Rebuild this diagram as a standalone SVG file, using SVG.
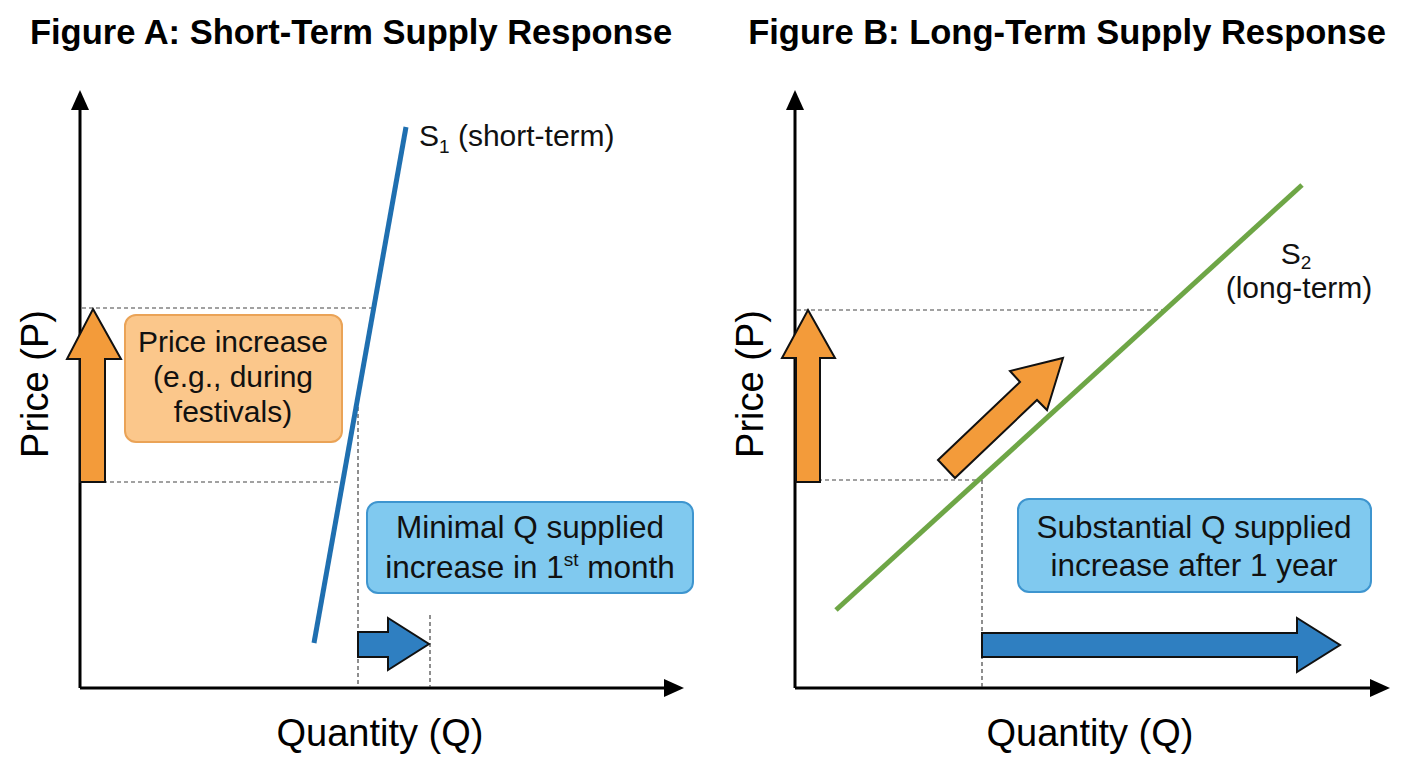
<svg xmlns="http://www.w3.org/2000/svg" width="1408" height="768" viewBox="0 0 1408 768">
<defs>
<marker id="ah" markerWidth="20" markerHeight="18" refX="4" refY="9" orient="auto" markerUnits="userSpaceOnUse" viewBox="0 0 20 18">
<path d="M0,0 L20,9 L0,18 Z" fill="#000"/>
</marker>
<style>
.title{font-family:"Liberation Sans",Arial,sans-serif;font-weight:bold;font-size:34.5px;fill:#000}
.axl{font-family:"Liberation Sans",Arial,sans-serif;font-size:38px;fill:#000}
.lbl{font-family:"Liberation Sans",Arial,sans-serif;font-size:30px;fill:#111}
.box{font-family:"Liberation Sans",Arial,sans-serif;font-size:31.5px;fill:#111}
.axis{stroke:#000;stroke-width:3;fill:none}
.dash{stroke:#444;stroke-width:1.2;stroke-dasharray:4 3;fill:none}
.oarrow{fill:#f39b3a;stroke:#111;stroke-width:2;stroke-linejoin:miter}
.barrow{fill:#2f7fc1;stroke:#111;stroke-width:2}
.obox{fill:#fbc78b;stroke:#eaa357;stroke-width:2}
.bbox{fill:#80c9ef;stroke:#3e95cf;stroke-width:2}
</style>
</defs>
<rect width="1408" height="768" fill="#fff"/>

<text class="title" x="351" y="44" text-anchor="middle">Figure A: Short-Term Supply Response</text>
<text class="title" x="1067" y="44" text-anchor="middle">Figure B: Long-Term Supply Response</text>

<g id="connectors">
<!-- Figure A axes -->
<line class="axis" x1="80" y1="688" x2="80" y2="106" marker-end="url(#ah)"/>
<line class="axis" x1="80" y1="688" x2="668" y2="688" marker-end="url(#ah)"/>
<!-- Figure A dashed guides -->
<line class="dash" x1="82" y1="308" x2="372" y2="308"/>
<line class="dash" x1="82" y1="482" x2="340" y2="482"/>
<line class="dash" x1="358" y1="400" x2="358" y2="687"/>
<line class="dash" x1="430" y1="615" x2="430" y2="687"/>
<!-- Figure B axes -->
<line class="axis" x1="795" y1="688" x2="795" y2="106" marker-end="url(#ah)"/>
<line class="axis" x1="795" y1="688" x2="1374" y2="688" marker-end="url(#ah)"/>
<!-- Figure B dashed guides -->
<line class="dash" x1="797" y1="310" x2="1165" y2="310"/>
<line class="dash" x1="797" y1="480" x2="982" y2="480"/>
<line class="dash" x1="982" y1="480" x2="982" y2="687"/>
</g>

<g id="s1-curve">
<line x1="314" y1="643" x2="406" y2="127" stroke="#1f6fb0" stroke-width="5"/>
<text class="lbl" x="419" y="146">S<tspan font-size="19" dy="7">1</tspan><tspan dy="-7"> (short-term)</tspan></text>
</g>

<g id="s2-curve">
<line x1="836" y1="610" x2="1302" y2="185" stroke="#6ea646" stroke-width="5"/>
<text class="lbl" x="1296" y="264" text-anchor="middle">S<tspan font-size="19" dy="5">2</tspan></text>
<text class="lbl" x="1299" y="298" text-anchor="middle">(long-term)</text>
</g>

<g id="price-arrow-a">
<path class="oarrow" d="M93,309 L121,359 L105,359 L105,482 L80,482 L80,359 L67,359 Z"/>
</g>

<g id="price-box-a">
<rect class="obox" x="125" y="315" width="217" height="127" rx="11"/>
<text class="lbl" x="233" y="352" text-anchor="middle">Price increase</text>
<text class="lbl" x="233" y="387" text-anchor="middle">(e.g., during</text>
<text class="lbl" x="233" y="422" text-anchor="middle">festivals)</text>
</g>

<g id="qty-box-a">
<rect class="bbox" x="367" y="502" width="326" height="91" rx="11"/>
<text class="box" x="530" y="538" text-anchor="middle">Minimal Q supplied</text>
<text class="box" x="530" y="578" text-anchor="middle">increase in 1<tspan font-size="19" dy="-12">st</tspan><tspan dy="12"> month</tspan></text>
</g>

<g id="qty-arrow-a">
<path class="barrow" d="M358,632 L388,632 L388,618 L429,644 L388,670 L388,657 L358,657 Z"/>
</g>

<g id="price-arrow-b">
<path class="oarrow" d="M808,310 L835,358 L820,358 L820,482 L796,482 L796,358 L782,358 Z"/>
</g>

<g id="diag-arrow-b">
<path class="oarrow" d="M938,460 L1020,382 L1010,371 L1063,358 L1047,410 L1037,400 L955,478 Z"/>
</g>

<g id="qty-box-b">
<rect class="bbox" x="1018" y="499" width="353" height="93" rx="11"/>
<text class="box" x="1194" y="538" text-anchor="middle">Substantial Q supplied</text>
<text class="box" x="1194" y="576" text-anchor="middle">increase after 1 year</text>
</g>

<g id="qty-arrow-b">
<path class="barrow" d="M982,633 L1297,633 L1297,618 L1340,645 L1297,672 L1297,657 L982,657 Z"/>
</g>

<text class="axl" x="380" y="746" text-anchor="middle">Quantity (Q)</text>
<text class="axl" x="1090" y="746" text-anchor="middle">Quantity (Q)</text>
<text class="axl" transform="translate(48,384) rotate(-90)" text-anchor="middle">Price (P)</text>
<text class="axl" transform="translate(763,384) rotate(-90)" text-anchor="middle">Price (P)</text>
</svg>
